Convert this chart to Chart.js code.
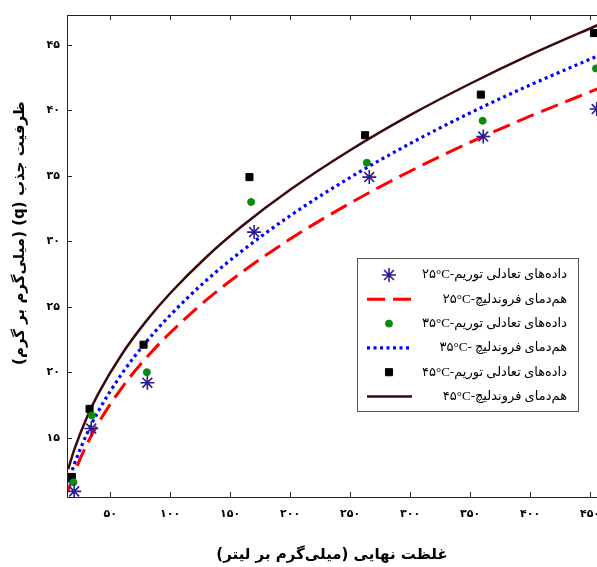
<!DOCTYPE html>
<html>
<head>
<meta charset="utf-8">
<script src="https://cdn.jsdelivr.net/npm/chart.js@4.4.1/dist/chart.umd.min.js"></script>
<style>
  html, body { margin: 0; padding: 0; background: #fff; overflow: hidden; width: 597px; height: 567px; }
  #wrap { width: 620px; height: 567px; }
</style>
</head>
<body>
<div id="wrap"><canvas id="chart" width="620" height="567"></canvas></div>
<script>
// equilibrium data (Ce in mg/L, q in mg/g)
const temps = ["۲۵", "۳۵", "۴۵"];
const ce25 = [20, 34.2, 81, 170, 266, 361, 455.6];
const qe25 = [10.9, 15.7, 19.2, 30.7, 34.9, 38.0, 40.1];
const ce35 = [19.4, 34.7, 80.6, 167.5, 264, 360.5, 455];
const qe35 = [11.6, 16.7, 20.0, 33.0, 36.0, 39.2, 43.2];
const ce45 = [18, 32.8, 77.8, 166.1, 262.5, 359, 453.3];
const qe45 = [12.0, 17.2, 22.1, 34.9, 38.1, 41.2, 45.9];

// Freundlich isotherm curves
const fitCe = [15, 20, 30, 40, 60, 80, 100, 130, 160, 200, 250, 300, 350, 400, 460];
const fit25 = [10.97, 12.28, 14.38, 16.09, 18.85, 21.09, 23.01, 25.5, 27.65, 30.17, 32.91, 35.35, 37.55, 39.55, 41.77];
const fit35 = [11.57, 12.95, 15.18, 17.0, 19.92, 22.31, 24.35, 27.0, 29.27, 31.95, 34.87, 37.46, 39.8, 41.93, 44.29];
const fit45 = [12.6, 14.07, 16.43, 18.34, 21.41, 23.9, 26.03, 28.78, 31.16, 33.93, 36.95, 39.63, 42.03, 44.23, 46.65];

const xTicks = [50, 100, 150, 200, 250, 300, 350, 400, 450];
const yTicks = [15, 20, 25, 30, 35, 40, 45];

const xTitle = "غلظت نهایی (میلی‌گرم بر لیتر)";
const yTitle = "ظرفیت جذب (q) (میلی‌گرم بر گرم)";

const toFa = (v) => String(v).replace(/\d/g, (d) => "۰۱۲۳۴۵۶۷۸۹"[d]);
const pts = (xs, ys) => xs.map((x, i) => ({ x, y: ys[i] }));

const dataLabel = (t) => `${t}°C-داده‌های تعادلی توریم`;
const fitLabel = (t, sp) => `${t}°C-${sp ? " " : ""}هم‌دمای فروندلیچ`;

function pointSet(label, xs, ys, style, color, radius) {
  return {
    label,
    data: pts(xs, ys),
    showLine: false,
    pointStyle: style,
    pointRadius: radius,
    pointHoverRadius: radius,
    pointBackgroundColor: color,
    pointBorderColor: color,
    pointBorderWidth: style === "star" ? 1.6 : 1,
    borderColor: color,
    backgroundColor: color,
    clip: false,
    order: 0,
  };
}

function lineSet(label, ys, color, width, dash) {
  return {
    label,
    data: pts(fitCe, ys),
    showLine: true,
    borderColor: color,
    backgroundColor: color,
    borderWidth: width,
    borderDash: dash,
    pointRadius: 0,
    cubicInterpolationMode: "monotone",
    order: 1,
  };
}

const datasets = [
  pointSet(dataLabel(temps[0]), ce25, qe25, "star", "#2a1d92", 7),
  lineSet(fitLabel(temps[0]), fit25, "#ff0000", 3, [18, 8]),
  pointSet(dataLabel(temps[1]), ce35, qe35, "circle", "#0b8a0b", 3.5),
  lineSet(fitLabel(temps[1], true), fit35, "#0000ff", 3.2, [3, 3.5]),
  pointSet(dataLabel(temps[2]), ce45, qe45, "rect", "#000000", 5),
  lineSet(fitLabel(temps[2]), fit45, "#3a0a0a", 2.5, []),
];

const tickFont = { family: "DejaVu Sans", size: 11, weight: "bold" };

const decor = {
  id: "decor",
  afterDraw(chart) {
    const { ctx, chartArea: a, scales } = chart;
    const x = scales.x, y = scales.y;
    ctx.save();

    // box and inward ticks
    ctx.strokeStyle = "#222";
    ctx.lineWidth = 1;
    ctx.strokeRect(a.left + 0.5, a.top + 0.5, a.right - a.left, a.bottom - a.top);
    ctx.beginPath();
    xTicks.forEach((v) => {
      const px = Math.round(x.getPixelForValue(v)) + 0.5;
      ctx.moveTo(px, a.bottom); ctx.lineTo(px, a.bottom - 5);
      ctx.moveTo(px, a.top); ctx.lineTo(px, a.top + 5);
    });
    yTicks.forEach((v) => {
      const py = Math.round(y.getPixelForValue(v)) + 0.5;
      ctx.moveTo(a.left, py); ctx.lineTo(a.left + 5, py);
      ctx.moveTo(a.right, py); ctx.lineTo(a.right - 5, py);
    });
    ctx.stroke();

    // axis titles
    ctx.fillStyle = "#000";
    ctx.direction = "rtl";
    ctx.textAlign = "center";
    ctx.textBaseline = "middle";
    ctx.font = 'bold 15px "DejaVu Sans"';
    ctx.fillText(xTitle, 332, 555);
    ctx.save();
    ctx.translate(20, 233);
    ctx.rotate(-Math.PI / 2);
    ctx.fillText(yTitle, 0, 0);
    ctx.restore();

    // legend
    const L = 357, T = 258, R = 578, B = 411;
    ctx.fillStyle = "#fff";
    ctx.fillRect(L, T, R - L, B - T);
    ctx.strokeStyle = "#555";
    ctx.strokeRect(L + 0.5, T + 0.5, R - L, B - T);
    ctx.direction = "ltr";
    ctx.textAlign = "right";
    ctx.font = '13px "Liberation Serif", "DejaVu Sans"';
    chart.data.datasets.forEach((ds, i) => {
      const ry = 275 + i * 24.3;
      ctx.save();
      if (ds.showLine) {
        ctx.strokeStyle = ds.borderColor;
        ctx.lineWidth = ds.borderWidth;
        ctx.setLineDash(ds.borderDash);
        ctx.beginPath();
        ctx.moveTo(367, ry); ctx.lineTo(412, ry);
        ctx.stroke();
      } else {
        ctx.fillStyle = ds.pointBackgroundColor;
        ctx.strokeStyle = ds.pointBorderColor;
        ctx.lineWidth = ds.pointBorderWidth;
        Chart.helpers.drawPoint(ctx, {
          pointStyle: ds.pointStyle, radius: ds.pointRadius,
          rotation: 0, borderWidth: ds.pointBorderWidth,
        }, 389, ry);
      }
      ctx.restore();
      ctx.fillStyle = "#000";
      ctx.fillText(ds.label, 567, ry);
    });
    ctx.restore();
  },
};

new Chart(document.getElementById("chart"), {
  type: "scatter",
  data: { datasets },
  options: {
    responsive: false,
    animation: false,
    layout: { padding: { top: 15, right: 12, left: 0, bottom: 0 } },
    plugins: { legend: { display: false }, tooltip: { enabled: false } },
    scales: {
      x: {
        type: "linear",
        min: 14,
        max: 465,
        afterBuildTicks: (s) => { s.ticks = xTicks.map((value) => ({ value })); },
        afterFit: (s) => { s.height = 70; },
        grid: { display: false, drawTicks: false },
        border: { display: false },
        ticks: { callback: (v) => toFa(v), font: tickFont, color: "#000", padding: 11, maxRotation: 0, autoSkip: false },
      },
      y: {
        type: "linear",
        min: 10.47,
        max: 47.28,
        afterBuildTicks: (s) => { s.ticks = yTicks.map((value) => ({ value })); },
        afterFit: (s) => { s.width = 67; },
        grid: { display: false, drawTicks: false },
        border: { display: false },
        ticks: { callback: (v) => toFa(v), font: tickFont, color: "#000", padding: 7, autoSkip: false },
      },
    },
  },
  plugins: [decor],
});
</script>
</body>
</html>
